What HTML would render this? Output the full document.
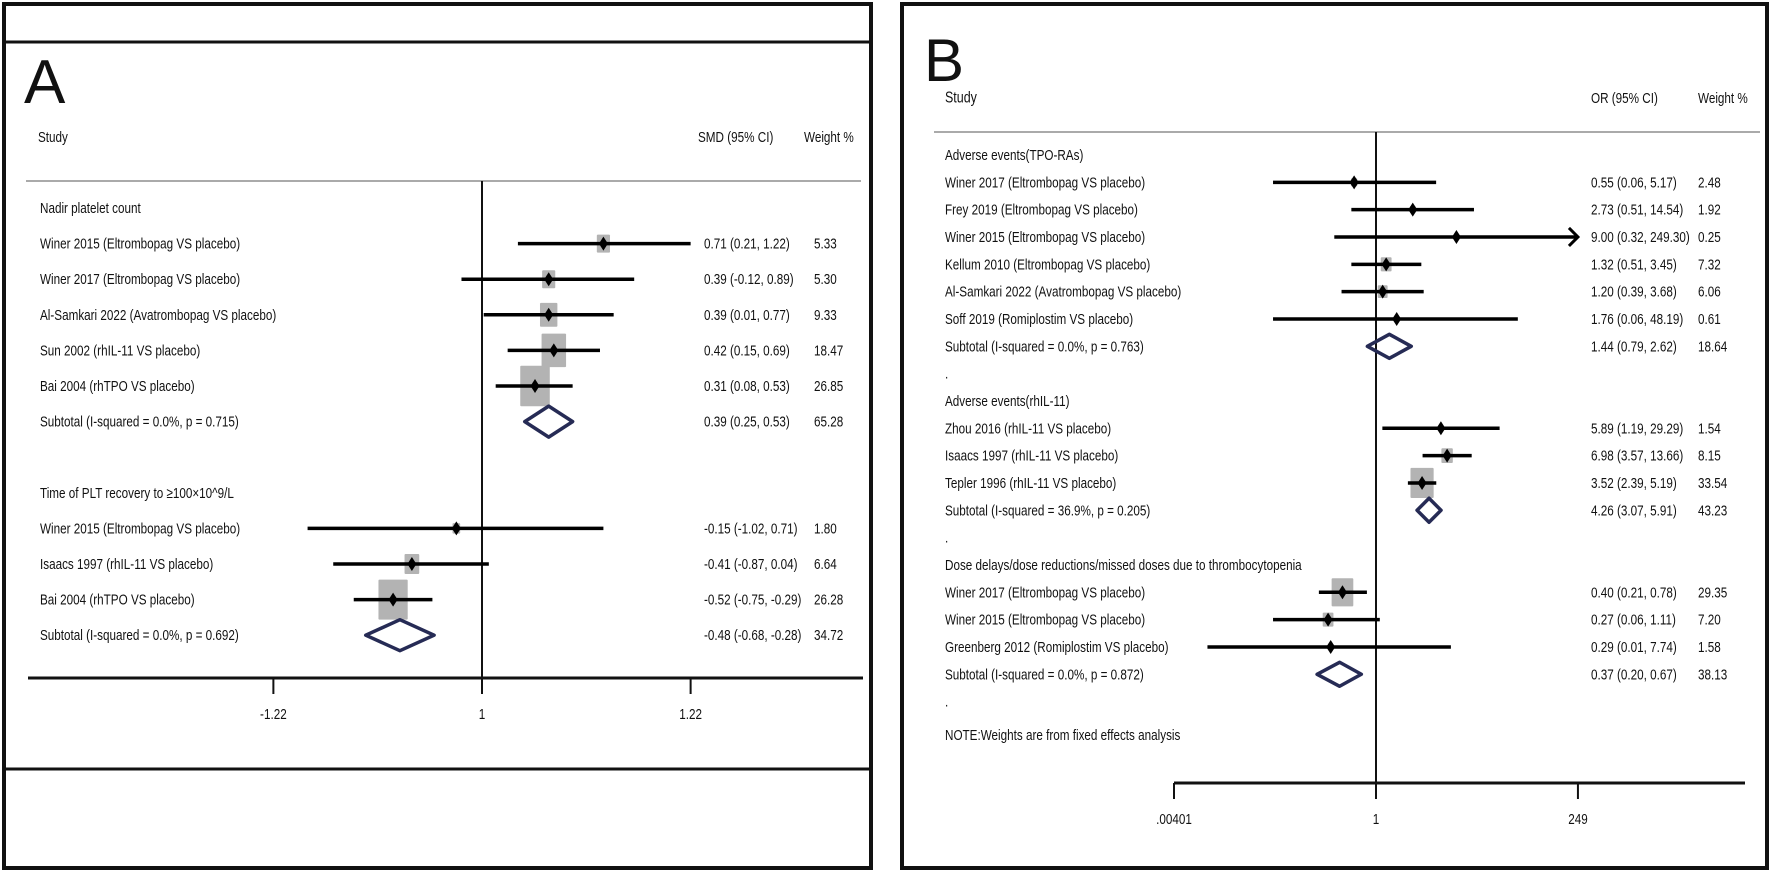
<!DOCTYPE html>
<html><head><meta charset="utf-8">
<style>
html,body{margin:0;padding:0;background:#fff;}
svg{display:block;}
text{font-family:"Liberation Sans",sans-serif;fill:#111;}
</style></head>
<body>
<svg id="fig" width="1772" height="875" viewBox="0 0 1772 875" xmlns="http://www.w3.org/2000/svg">
  <g>
    <rect x="4" y="4" width="867" height="864" fill="none" stroke="#111" stroke-width="4"/>
    <line x1="4" y1="42" x2="871" y2="42" stroke="#111" stroke-width="3"/>
    <line x1="4" y1="769" x2="871" y2="769" stroke="#111" stroke-width="3"/>
    <text class="big" x="24" y="103" style="font-size:62px">A</text>
    <text x="38" y="137" font-size="15" dominant-baseline="central">Study</text>
    <text x="698" y="137" font-size="15" dominant-baseline="central">SMD (95% CI)</text>
    <text x="804" y="137" font-size="15" dominant-baseline="central">Weight %</text>
    <line x1="26" y1="181" x2="861" y2="181" stroke="#aaa" stroke-width="2"/>
  </g>
  <g>
    <rect x="902" y="4" width="865" height="864" fill="none" stroke="#111" stroke-width="4"/>
    <text class="big" x="924" y="81" style="font-size:60px">B</text>
    <text x="945" y="98" font-size="16" dominant-baseline="central">Study</text>
    <text x="1591" y="98" font-size="15" dominant-baseline="central">OR (95% CI)</text>
    <text x="1698" y="98" font-size="15" dominant-baseline="central">Weight %</text>
    <line x1="934" y1="132" x2="1760" y2="132" stroke="#aaa" stroke-width="2"/>
  </g>
  <g id="pa"></g>
  <g id="pb"></g>
</svg>
<script>
// ---------- Panel A data (SMD) ----------
const aLabels = ["Nadir platelet count","Winer 2015 (Eltrombopag VS placebo)","Winer 2017 (Eltrombopag VS placebo)","Al-Samkari 2022 (Avatrombopag VS placebo)","Sun 2002 (rhIL-11 VS placebo)","Bai 2004 (rhTPO VS placebo)","Subtotal  (I-squared = 0.0%, p = 0.715)","","Time of PLT recovery to \u2265100\u00d710^9/L","Winer 2015 (Eltrombopag VS placebo)","Isaacs 1997 (rhIL-11 VS placebo)","Bai 2004 (rhTPO VS placebo)","Subtotal  (I-squared = 0.0%, p = 0.692)"];
const aKind = ["h","s","s","s","s","s","d","","h","s","s","s","d"];
const aEst = [null,0.71,0.39,0.39,0.42,0.31,0.39,null,null,-0.15,-0.41,-0.52,-0.48];
const aLo = [null,0.21,-0.12,0.01,0.15,0.08,0.25,null,null,-1.02,-0.87,-0.75,-0.68];
const aHi = [null,1.22,0.89,0.77,0.69,0.53,0.53,null,null,0.71,0.04,-0.29,-0.28];
const aWeight = [null,5.33,5.30,9.33,18.47,26.85,65.28,null,null,1.80,6.64,26.28,34.72];
const aCI = ["","0.71 (0.21, 1.22)","0.39 (-0.12, 0.89)","0.39 (0.01, 0.77)","0.42 (0.15, 0.69)","0.31 (0.08, 0.53)","0.39 (0.25, 0.53)","","","-0.15 (-1.02, 0.71)","-0.41 (-0.87, 0.04)","-0.52 (-0.75, -0.29)","-0.48 (-0.68, -0.28)"];
const aTicks = [-1.22,0,1.22];
const aTickLabels = ["-1.22","1","1.22"];

// ---------- Panel B data (OR, log scale) ----------
const bLabels = ["Adverse events(TPO-RAs)","Winer 2017 (Eltrombopag VS placebo)","Frey 2019 (Eltrombopag VS placebo)","Winer 2015 (Eltrombopag VS placebo)","Kellum 2010 (Eltrombopag VS placebo)","Al-Samkari 2022 (Avatrombopag VS placebo)","Soff 2019 (Romiplostim VS placebo)","Subtotal  (I-squared = 0.0%, p = 0.763)",".","Adverse events(rhIL-11)","Zhou 2016 (rhIL-11 VS placebo)","Isaacs 1997 (rhIL-11 VS placebo)","Tepler 1996 (rhIL-11 VS placebo)","Subtotal  (I-squared = 36.9%, p = 0.205)",".","Dose delays/dose reductions/missed doses due to thrombocytopenia","Winer 2017 (Eltrombopag VS placebo)","Winer 2015 (Eltrombopag VS placebo)","Greenberg 2012 (Romiplostim VS placebo)","Subtotal  (I-squared = 0.0%, p = 0.872)","."];
const bKind = ["h","s","s","s","s","s","s","d","","h","s","s","s","d","","h","s","s","s","d",""];
const bEst = [null,0.55,2.73,9.00,1.32,1.20,1.76,1.44,null,null,5.89,6.98,3.52,4.26,null,null,0.40,0.27,0.29,0.37,null];
const bLo = [null,0.06,0.51,0.32,0.51,0.39,0.06,0.79,null,null,1.19,3.57,2.39,3.07,null,null,0.21,0.06,0.01,0.20,null];
const bHi = [null,5.17,14.54,249.30,3.45,3.68,48.19,2.62,null,null,29.29,13.66,5.19,5.91,null,null,0.78,1.11,7.74,0.67,null];
const bWeight = [null,2.48,1.92,0.25,7.32,6.06,0.61,18.64,null,null,1.54,8.15,33.54,43.23,null,null,29.35,7.20,1.58,38.13,null];
const bCI = ["","0.55 (0.06, 5.17)","2.73 (0.51, 14.54)","9.00 (0.32, 249.30)","1.32 (0.51, 3.45)","1.20 (0.39, 3.68)","1.76 (0.06, 48.19)","1.44 (0.79, 2.62)","","","5.89 (1.19, 29.29)","6.98 (3.57, 13.66)","3.52 (2.39, 5.19)","4.26 (3.07, 5.91)","","","0.40 (0.21, 0.78)","0.27 (0.06, 1.11)","0.29 (0.01, 7.74)","0.37 (0.20, 0.67)",""];
const bTicks = [0.00401,1,249];
const bTickLabels = [".00401","1","249"];

const NS = "http://www.w3.org/2000/svg";
function mk(parent, tag, attrs){const e=document.createElementNS(NS,tag);for(const k in attrs)e.setAttribute(k,attrs[k]);parent.appendChild(e);return e;}

function drawPanel(g, cfg){
  const {labels,kind,est,lo,hi,wt,ci,ticks,tickLabels,xs,y0,dy,xLabel,xCI,xW,fs,k,hr,xmin,xmax,axisY,axisL,axisR,lineTop,dh,prefix} = cfg;
  const zl = mk(g,"line",{x1:xs(cfg.nullV),y1:lineTop,x2:xs(cfg.nullV),y2:axisY+16,stroke:"#111","stroke-width":2});
  
  
  const ax = mk(g,"line",{x1:axisL,y1:axisY,x2:axisR,y2:axisY,stroke:"#111","stroke-width":3});
  
  
  ticks.forEach((t,i)=>{
    const tl = mk(g,"line",{x1:xs(t),y1:axisY,x2:xs(t),y2:axisY+16,stroke:"#111","stroke-width":2});
    
    
    const tt = mk(g,"text",{x:xs(t),y:axisY+36,"font-size":fs,"text-anchor":"middle","dominant-baseline":"central"});
    tt.textContent = tickLabels[i];
    
    
  });
  labels.forEach((lab,i)=>{
    const y = y0 + dy*i;
    if(lab){
      const t = mk(g,"text",{x:xLabel,y:y,"font-size":fs,"dominant-baseline":"central"});
      t.textContent = lab;
      
      
    }
    if(ci[i]){
      const c = mk(g,"text",{x:xCI,y:y,"font-size":fs,"dominant-baseline":"central"});
      c.textContent = ci[i];
      
      
      const w = mk(g,"text",{x:xW,y:y,"font-size":fs,"dominant-baseline":"central"});
      w.textContent = wt[i].toFixed(2);
      
      
    }
    if(kind[i]==="s"){
      const side = k*Math.sqrt(wt[i]);
      const sq = mk(g,"rect",{x:xs(est[i])-side/2,y:y-side*hr/2,width:side,height:side*hr,fill:"#b3b3b3",rx:1});
      
      
      const arrow = hi[i] > xmax;
      const x1 = xs(Math.max(lo[i],xmin)), x2 = xs(Math.min(hi[i],xmax));
      const ln = mk(g,"line",{x1:x1,y1:y,x2:x2,y2:y,stroke:"#000","stroke-width":3.5});
      
      
      if(arrow){
        const ar = mk(g,"polyline",{points:`${x2-9},${y-9} ${x2},${y} ${x2-9},${y+9}`,fill:"none",stroke:"#000","stroke-width":3});
        
        
      }
      const px = xs(est[i]);
      const pt = mk(g,"polygon",{points:`${px},${y-7} ${px+4.5},${y} ${px},${y+7} ${px-4.5},${y}`,fill:"#000"});
      
      
    } else if(kind[i]==="d"){
      const xl=xs(lo[i]), xr=xs(hi[i]), xc=xs(est[i]);
      const d = mk(g,"polygon",{points:`${xl},${y} ${xc},${y-dh/2} ${xr},${y} ${xc},${y+dh/2}`,fill:"none",stroke:"#262b55","stroke-width":3.5,"stroke-linejoin":"round"});
      
      
    }
  });
}

drawPanel(document.getElementById("pa"),{
  labels:aLabels,kind:aKind,est:aEst,lo:aLo,hi:aHi,wt:aWeight,ci:aCI,ticks:aTicks,tickLabels:aTickLabels,
  xs:v=>482+171*v,nullV:0,y0:208,dy:35.6,xLabel:40,xCI:704,xW:814,fs:15,k:5.7,hr:1.37,
  xmin:-1.22,xmax:1.22,axisY:678,axisL:28,axisR:863,lineTop:181,dh:31,prefix:"panel-a"
});
drawPanel(document.getElementById("pb"),{
  labels:bLabels,kind:bKind,est:bEst,lo:bLo,hi:bHi,wt:bWeight,ci:bCI,ticks:bTicks,tickLabels:bTickLabels,
  xs:v=>1376+36.6*Math.log(v),nullV:1,y0:155,dy:27.33,xLabel:945,xCI:1591,xW:1698,fs:15,k:4.0,hr:1.3,
  xmin:0.00401,xmax:249,axisY:783,axisL:1174,axisR:1745,lineTop:132,dh:24,prefix:"panel-b"
});
const note = document.createElementNS(NS,"text");
note.setAttribute("x","945");note.setAttribute("y","735");note.setAttribute("font-size","15");note.setAttribute("dominant-baseline","central");
note.textContent="NOTE:Weights are from fixed effects analysis";


document.getElementById("pb").appendChild(note);

// condense text horizontally (reference uses a narrow face)
document.querySelectorAll("#fig text:not(.big)").forEach(t=>{
  const x = parseFloat(t.getAttribute("x")), y = parseFloat(t.getAttribute("y"));
  t.setAttribute("x","0"); t.setAttribute("y","0");
  t.setAttribute("transform",`translate(${x},${y}) scale(0.78,1)`);
});
</script>
</body></html>
